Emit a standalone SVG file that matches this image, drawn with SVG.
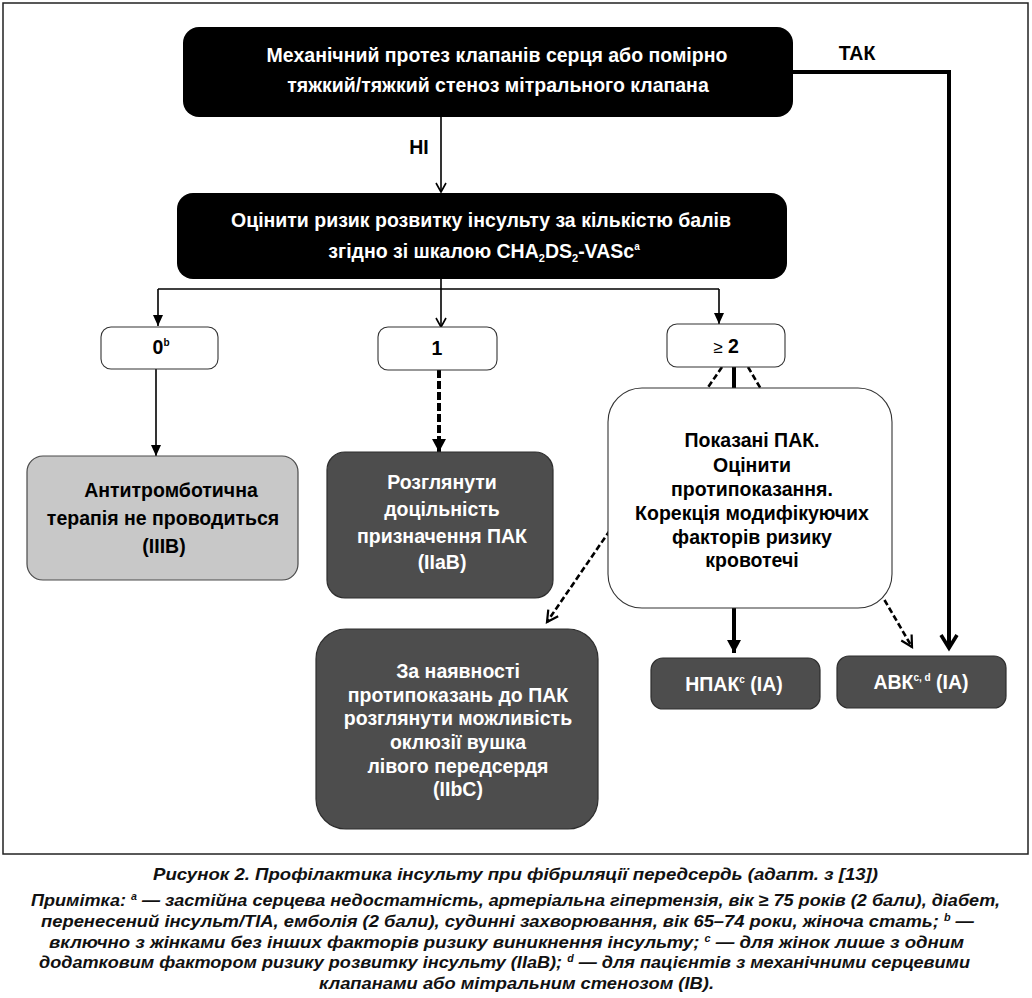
<svg xmlns="http://www.w3.org/2000/svg" width="1032" height="998" viewBox="0 0 1032 998">
<style>
text{font-family:"Liberation Sans",Arial,sans-serif;font-weight:bold;}
.w{fill:#fff;font-size:19.5px;}
.k{fill:#000;font-size:19.5px;}
.cap{font-style:italic;font-size:16.5px;fill:#111;}
.note{font-style:italic;font-size:17px;fill:#111;}
.thin{stroke:#000;stroke-width:1.6;fill:none;}
.dark{fill:#4d4d4d;stroke:#2e2e2e;stroke-width:1.2;}
.wbox{fill:#fff;stroke:#333;stroke-width:1.1;}
</style>
<defs>
<marker id="openV" markerUnits="userSpaceOnUse" markerWidth="20" markerHeight="20" viewBox="-12 -10 14 20" refX="0" refY="0" orient="auto">
<path d="M-9,-5 L0,0 L-9,5" fill="none" stroke="#000" stroke-width="1.6" stroke-dasharray="none"/>
</marker>
<marker id="fillA" markerUnits="userSpaceOnUse" markerWidth="20" markerHeight="20" viewBox="-12 -10 14 20" refX="0" refY="0" orient="auto">
<path d="M-11,-5 L0,0 L-11,5 Z" fill="#000" stroke="none"/>
</marker>
<marker id="fillBig" markerUnits="userSpaceOnUse" markerWidth="24" markerHeight="24" viewBox="-16 -12 18 24" refX="0" refY="0" orient="auto">
<path d="M-13,-7 L0,0 L-13,7 Z" fill="#000" stroke="none"/>
</marker>
<marker id="openDash" markerUnits="userSpaceOnUse" markerWidth="24" markerHeight="24" viewBox="-16 -12 18 24" refX="0" refY="0" orient="auto">
<path d="M-11,-6 L0,0 L-11,6" fill="none" stroke="#000" stroke-width="2.2" stroke-dasharray="none"/>
</marker>
<marker id="openThick" markerUnits="userSpaceOnUse" markerWidth="30" markerHeight="30" viewBox="-20 -15 24 30" refX="0" refY="0" orient="auto">
<path d="M-13,-8 L0,0 L-13,8" fill="none" stroke="#000" stroke-width="3.6" stroke-dasharray="none"/>
</marker>
</defs>
<rect x="0" y="0" width="1032" height="998" fill="#fff"/>
<rect x="3" y="3" width="1025" height="851" fill="none" stroke="#222" stroke-width="1.5"/>

<g id="connectors">
<line class="thin" x1="441" y1="117" x2="441" y2="192" marker-end="url(#openV)"/>
<polyline class="thin" points="441,279 441,289"/>
<polyline class="thin" points="158,289 719,289"/>
<line class="thin" x1="158" y1="289" x2="158" y2="326" marker-end="url(#fillA)"/>
<line class="thin" x1="441" y1="289" x2="441" y2="327" marker-end="url(#openV)"/>
<line class="thin" x1="719" y1="289" x2="719" y2="324" marker-end="url(#fillA)"/>
<line class="thin" x1="156" y1="369" x2="156" y2="456" marker-end="url(#fillA)"/>
<line x1="439" y1="370" x2="439" y2="452" stroke="#000" stroke-width="4" stroke-dasharray="8,3" marker-end="url(#fillBig)"/>
<line x1="734" y1="367" x2="734" y2="653" stroke="#000" stroke-width="4" marker-end="url(#fillBig)"/>
<line x1="722" y1="367" x2="547" y2="622" stroke="#000" stroke-width="2.6" stroke-dasharray="6,3" marker-end="url(#openDash)"/>
<line x1="748" y1="367" x2="912" y2="647" stroke="#000" stroke-width="2.6" stroke-dasharray="6,3" marker-end="url(#openDash)"/>
<polyline points="793,72 949,72 949,648" fill="none" stroke="#000" stroke-width="4" marker-end="url(#openThick)"/>
<text class="k" x="419" y="154" text-anchor="middle">НІ</text>
<text class="k" x="857" y="60" text-anchor="middle">ТАК</text>
</g>

<g id="n-top">
<rect x="183" y="27" width="610" height="90" rx="16" fill="#000"/>
<text class="w" x="497" y="62" text-anchor="middle">Механічний протез клапанів серця або помірно</text>
<text class="w" x="498" y="92" text-anchor="middle">тяжкий/тяжкий стеноз мітрального клапана</text>
</g>

<g id="n-score">
<rect x="177" y="193" width="610" height="86" rx="16" fill="#000"/>
<text class="w" x="481" y="227" text-anchor="middle" font-size="18.8">Оцінити ризик розвитку інсульту за кількістю балів</text>
<text class="w" x="484" y="258" text-anchor="middle" font-size="18.8">згідно зі шкалою CHA<tspan font-size="11" dy="4">2</tspan><tspan dy="-4">DS</tspan><tspan font-size="11" dy="4">2</tspan><tspan dy="-4">-VASc</tspan><tspan font-size="10" dy="-8">a</tspan></text>
</g>

<g id="n-0">
<rect class="wbox" x="101" y="327" width="117" height="42" rx="10"/>
<text class="k" x="161" y="354" text-anchor="middle">0<tspan font-size="10" dy="-8">b</tspan></text>
</g>

<g id="n-1">
<rect class="wbox" x="378" y="327" width="119" height="43" rx="10"/>
<text class="k" x="437" y="355" text-anchor="middle">1</text>
</g>

<g id="n-2">
<rect class="wbox" x="667" y="324" width="118" height="43" rx="10"/>
<text class="k" x="726" y="353" text-anchor="middle"><tspan font-weight="normal" font-size="17">≥</tspan> 2</text>
</g>

<g id="n-none">
<rect x="27" y="456" width="271" height="124" rx="16" fill="#c8c8c8" stroke="#4a4a4a" stroke-width="1.2"/>
<text class="k" x="171" y="497" text-anchor="middle">Антитромботична</text>
<text class="k" x="163" y="525" text-anchor="middle">терапія не проводиться</text>
<text class="k" x="164" y="553" text-anchor="middle">(IIIB)</text>
</g>

<g id="n-consider">
<rect class="dark" x="327" y="452" width="226" height="146" rx="18"/>
<text class="w" x="442" y="489" text-anchor="middle">Розглянути</text>
<text class="w" x="442" y="516" text-anchor="middle">доцільність</text>
<text class="w" x="442" y="543" text-anchor="middle">призначення ПАК</text>
<text class="w" x="442" y="569" text-anchor="middle">(IIaB)</text>
</g>

<g id="n-indicated">
<rect class="wbox" x="608" y="388" width="284" height="220" rx="34"/>
<text class="k" x="752" y="447" text-anchor="middle">Показані ПАК.</text>
<text class="k" x="752" y="472" text-anchor="middle">Оцінити</text>
<text class="k" x="752" y="496" text-anchor="middle">протипоказання.</text>
<text class="k" x="752" y="520" text-anchor="middle">Корекція модифікуючих</text>
<text class="k" x="752" y="544" text-anchor="middle">факторів ризику</text>
<text class="k" x="752" y="567" text-anchor="middle">кровотечі</text>
</g>

<g id="n-laa">
<rect class="dark" x="316" y="629" width="282" height="200" rx="30"/>
<text class="w" x="458" y="678" text-anchor="middle">За наявності</text>
<text class="w" x="458" y="702" text-anchor="middle">протипоказань до ПАК</text>
<text class="w" x="458" y="725" text-anchor="middle">розглянути можливість</text>
<text class="w" x="458" y="749" text-anchor="middle">оклюзії вушка</text>
<text class="w" x="458" y="773" text-anchor="middle">лівого передсердя</text>
<text class="w" x="458" y="796" text-anchor="middle">(IIbC)</text>
</g>

<g id="n-npak">
<rect class="dark" x="651" y="658" width="169" height="51" rx="12"/>
<text class="w" x="734" y="691" text-anchor="middle">НПАК<tspan font-size="10" dy="-8">c</tspan><tspan dy="8"> (IA)</tspan></text>
</g>

<g id="n-avk">
<rect class="dark" x="837" y="656" width="169" height="52" rx="12"/>
<text class="w" x="921" y="689" text-anchor="middle">АВК<tspan font-size="10" dy="-8">c, d</tspan><tspan dy="8"> (IA)</tspan></text>
</g>

<g id="caption">
<text class="cap" x="515.5" y="880" text-anchor="middle" textLength="725" lengthAdjust="spacingAndGlyphs">Рисунок 2. Профілактика інсульту при фібриляції передсердь (адапт. з [13])</text>
<text class="note" x="515.5" y="906" text-anchor="middle" textLength="969" lengthAdjust="spacingAndGlyphs">Примітка: <tspan font-size="10" dy="-6">a</tspan><tspan dy="6"> — застійна серцева недостатність, артеріальна гіпертензія, вік ≥ 75 років (2 бали), діабет,</tspan></text>
<text class="note" x="507.5" y="927" text-anchor="middle" textLength="933" lengthAdjust="spacingAndGlyphs">перенесений інсульт/TIA, емболія (2 бали), судинні захворювання, вік 65–74 роки, жіноча стать; <tspan font-size="10" dy="-6">b</tspan><tspan dy="6"> —</tspan></text>
<text class="note" x="506.5" y="948" text-anchor="middle" textLength="915" lengthAdjust="spacingAndGlyphs">включно з жінками без інших факторів ризику виникнення інсульту; <tspan font-size="10" dy="-6">c</tspan><tspan dy="6"> — для жінок лише з одним</tspan></text>
<text class="note" x="504.5" y="968" text-anchor="middle" textLength="931" lengthAdjust="spacingAndGlyphs">додатковим фактором ризику розвитку інсульту (IIaB); <tspan font-size="10" dy="-6">d</tspan><tspan dy="6"> — для пацієнтів з механічними серцевими</tspan></text>
<text class="note" x="516.5" y="989" text-anchor="middle" textLength="395" lengthAdjust="spacingAndGlyphs">клапанами або мітральним стенозом (IB).</text>
</g>
</svg>
